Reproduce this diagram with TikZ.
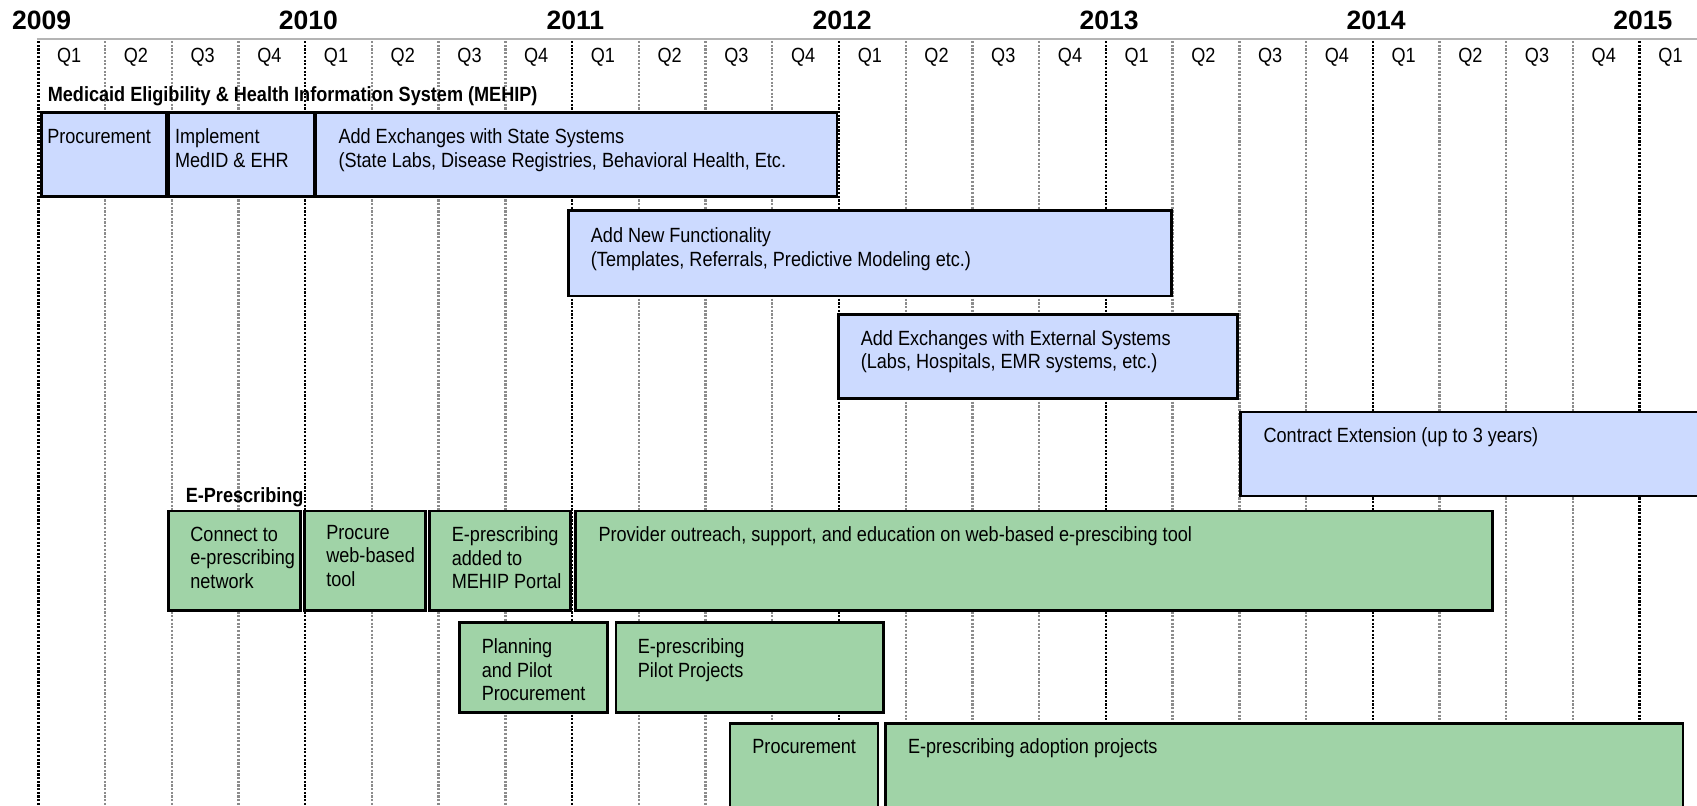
\documentclass[tikz,border=0pt]{standalone}
\usepackage{fontspec}
\setmainfont{Liberation Sans}[FakeStretch=0.88]
\newfontfamily\yearfont{Liberation Sans}
\usetikzlibrary{fit}
\definecolor{boxblue}{RGB}{204,218,255}
\definecolor{boxgreen}{RGB}{160,211,167}
\definecolor{qgray}{RGB}{140,140,140}
\definecolor{rulegray}{RGB}{180,180,180}
\begin{document}
\begin{tikzpicture}[x=1pt,y=-1pt,
  yearlbl/.style={font=\yearfont\bfseries\fontsize{24.5}{28}\selectfont, inner sep=0pt},
  qlbl/.style={font=\fontsize{19}{21.6}\selectfont, inner sep=0pt},
  grouptitle/.style={font=\bfseries\fontsize{19}{21.6}\selectfont, inner sep=0pt, anchor=west},
  yearline/.style={black, line width=2.2pt, dash pattern=on 2pt off 1.4pt},
  qline/.style={qgray, line width=2.2pt, dash pattern=on 2pt off 1.4pt},
  taskbox/.style={draw=black, line width=2.4pt, inner sep=0pt},
  bluebox/.style={taskbox, fill=boxblue},
  greenbox/.style={taskbox, fill=boxgreen},
  tasktext/.style={font=\fontsize{19}{21.6}\selectfont, inner sep=0pt, anchor=north west, align=left},
]
\useasboundingbox (0,0) rectangle (1568,744);
\clip (0,0) rectangle (1568,744);
\fill[white] (0,0) rectangle (1568,744);
% grid
\foreach \i in {0,...,25} {
  \pgfmathsetmacro\xx{35.4+61.65*\i}
  \pgfmathtruncatemacro\m{mod(\i,4)}
  \ifnum\m=0
    \draw[yearline] (\xx,38) -- (\xx,744);
  \else
    \draw[qline] (\xx,38) -- (\xx,744);
  \fi
}
\draw[rulegray, line width=2.5pt] (34,36) -- (1568,36);
% years
\foreach \y [count=\k from 0] in {2009,2010,2011,2012,2013,2014,2015}
  \node[yearlbl] (y\y) at (38.4+246.6*\k, 18.5) {\y};
% quarters
\foreach \i in {0,...,24} {
  \pgfmathtruncatemacro\qq{mod(\i,4)+1}
  \node[qlbl] (q\i) at (35.4+61.65*\i+28.5, 53) {Q\qq};
}
% titles
\node[grouptitle] (mehip) at (44,89) {Medicaid Eligibility \& Health Information System (MEHIP)};
\node[grouptitle] (eprx) at (171.5,459) {E-Prescribing};
% MEHIP boxes
\node[bluebox, fit={(38.2,104) (153.8,181.7)}] (b1) {};
\node[bluebox, fit={(155.6,104) (290,181.7)}] (b2) {};
\node[bluebox, fit={(291.5,104) (773.4,181.7)}] (b3) {};
\node[bluebox, fit={(525.1,194.7) (1082.6,273.5)}] (b4) {};
\node[bluebox, fit={(774.6,290.5) (1143.2,368.3)}] (b5) {};
\node[bluebox, fit={(1146.3,380.8) (1585,458.3)}] (b6) {};
% E-prescribing boxes
\node[greenbox, fit={(155.6,472) (277.6,564.3)}] (e1) {};
\node[greenbox, fit={(281.1,472) (393.2,564.3)}] (e2) {};
\node[greenbox, fit={(396.7,472) (527.4,564.3)}] (e3) {};
\node[greenbox, fit={(531.9,472) (1378.8,564.3)}] (e4) {};
\node[greenbox, fit={(424.4,575) (561.1,658.3)}] (e5) {};
\node[greenbox, fit={(569.2,575) (816.5,658.3)}] (e6) {};
\node[greenbox, fit={(674.4,668.3) (811.2,752)}] (e7) {};
\node[greenbox, fit={(818.3,668.3) (1555,752)}] (e8) {};
% texts
\node[tasktext] (tb1) at (43.5,119) {Procurement};
\node[tasktext] (tb2) at (161.6,119) {Implement\\MedID \& EHR};
\node[tasktext] (tb3) at (312.6,119) {Add Exchanges with State Systems\\(State Labs, Disease Registries, Behavioral Health, Etc.};
\node[tasktext] (tb4) at (545.8,210.5) {Add New Functionality\\(Templates, Referrals, Predictive Modeling etc.)};
\node[tasktext] (tb5) at (795.2,305) {Add Exchanges with External Systems\\(Labs, Hospitals, EMR systems, etc.)};
\node[tasktext] (tb6) at (1167.3,394.5) {Contract Extension (up to 3 years)};
\node[tasktext] (te1) at (175.7,486.8) {Connect to\\e-prescribing\\network};
\node[tasktext] (te2) at (301.3,485.3) {Procure\\web-based\\tool};
\node[tasktext] (te3) at (417.3,486.8) {E-prescribing\\added to\\MEHIP Portal};
\node[tasktext] (te4) at (552.8,486.8) {Provider outreach, support, and education on web-based e-prescibing tool};
\node[tasktext] (te5) at (445,590) {Planning\\and Pilot\\Procurement};
\node[tasktext] (te6) at (589.2,590) {E-prescribing\\Pilot Projects};
\node[tasktext] (te7) at (695,682.5) {Procurement};
\node[tasktext] (te8) at (838.8,682.5) {E-prescribing adoption projects};
\end{tikzpicture}
\end{document}
